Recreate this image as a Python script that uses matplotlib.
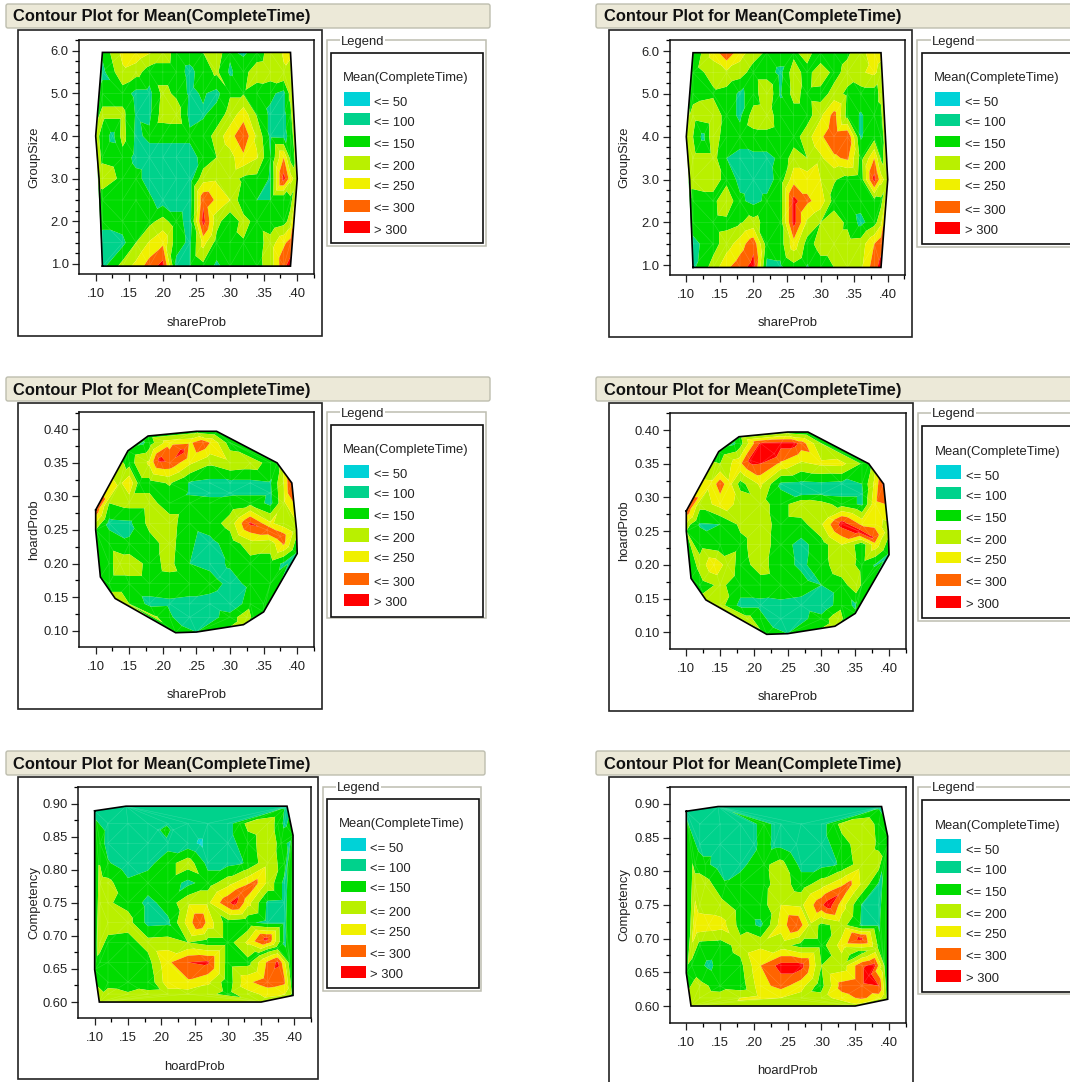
import matplotlib
matplotlib.use("Agg")
import matplotlib.pyplot as plt
import matplotlib.tri as mtri
from matplotlib.patches import Rectangle, FancyBboxPatch
import numpy as np

plt.rcParams['font.family'] = ['Liberation Sans', 'DejaVu Sans']

# ---------- data ----------
legend_title = "Mean(CompleteTime)"
legend_labels = ["<= 50", "<= 100", "<= 150", "<= 200", "<= 250", "<= 300", "> 300"]
band_levels = [0, 50, 100, 150, 200, 250, 300, 1000]
band_colors = ["#00D2D7", "#00D28C", "#00DC00", "#B9F000", "#F0F000", "#FF6400", "#FF0000"]
x_tick_values = [.10, .15, .20, .25, .30, .35, .40]
x_tick_labels = [".10", ".15", ".20", ".25", ".30", ".35", ".40"]

share_levels = [.11, .14, .16, .18, .20, .22, .24, .26, .28, .30, .32, .34, .36, .38, .39]
group_levels = [5.96, 5.5, 5.0, 4.5, 4.0, 3.5, 3.0, 2.5, 2.0, 1.5, 0.95]
group_ticks = [1, 2, 3, 4, 5, 6]
time_group_a = [
    [110, 215, 235, 205, 180, 130, 125, 150, 180, 110, 90, 125, 170, 205, 210],
    [85, 190, 170, 125, 125, 125, 85, 125, 160, 90, 135, 175, 180, 195, 180],
    [125, 125, 85, 85, 165, 140, 90, 105, 85, 145, 145, 125, 110, 85, 170],
    [165, 165, 95, 90, 175, 180, 85, 95, 120, 170, 230, 145, 90, 85, 130],
    [130, 170, 90, 110, 110, 110, 110, 120, 170, 230, 290, 190, 90, 85, 115],
    [140, 130, 85, 80, 80, 80, 80, 115, 150, 180, 240, 205, 100, 250, 130],
    [175, 140, 115, 80, 75, 75, 75, 180, 190, 170, 140, 135, 95, 320, 220],
    [125, 125, 135, 110, 75, 75, 75, 290, 240, 200, 110, 100, 100, 100, 135],
    [110, 125, 125, 135, 170, 120, 80, 320, 170, 110, 170, 130, 110, 130, 170],
    [85, 85, 150, 205, 240, 120, 90, 220, 130, 130, 145, 125, 175, 240, 270],
    [85, 170, 215, 275, 320, 85, 95, 135, 90, 125, 130, 135, 170, 290, 320],
]
time_group_b = [
    [100, 220, 290, 220, 175, 140, 135, 135, 180, 100, 120, 140, 185, 225, 215],
    [125, 170, 190, 175, 125, 125, 85, 180, 125, 195, 130, 170, 195, 210, 180],
    [130, 140, 130, 90, 120, 200, 95, 170, 130, 125, 170, 140, 125, 125, 165],
    [170, 190, 125, 90, 175, 180, 120, 125, 125, 190, 270, 130, 95, 125, 135],
    [150, 190, 110, 120, 135, 135, 125, 125, 180, 240, 290, 300, 95, 130, 140],
    [170, 170, 100, 85, 85, 85, 110, 175, 150, 190, 240, 260, 130, 250, 140],
    [170, 170, 135, 85, 80, 80, 120, 230, 230, 200, 155, 130, 120, 320, 220],
    [125, 135, 190, 110, 85, 110, 125, 320, 260, 230, 130, 125, 120, 130, 135],
    [125, 130, 135, 145, 170, 130, 125, 320, 190, 150, 175, 140, 85, 130, 185],
    [85, 130, 175, 225, 285, 125, 125, 230, 130, 170, 170, 170, 175, 250, 280],
    [90, 170, 240, 280, 320, 85, 90, 130, 95, 130, 150, 170, 190, 280, 320],
]
extra_group_a = [(.10, 4.0, 170), (.40, 3.0, 170), (.105, 3.0, 170), (.125, 4.0, 85)]
extra_group_b = [(.10, 4.0, 170), (.40, 3.0, 170), (.105, 3.0, 170), (.125, 4.0, 85)]

hoard_ticks = [.10, .15, .20, .25, .30, .35, .40]
hull_hoard = [(.10, .28, 290), (.10, .25, 150), (.107, .18, 100), (.129, .148, 170),
              (.219, .097, 140), (.25, .098, 100), (.32, .109, 170), (.35, .128, 110),
              (.40, .215, 90), (.399, .25, 170), (.392, .32, 310), (.37, .35, 120),
              (.28, .397, 110), (.25, .397, 130), (.178, .39, 130), (.148, .368, 120)]
rows_hoard_a = [
    (.38, [(.17, 90), (.18, 125), (.21, 230), (.24, 240), (.27, 250), (.30, 125)]),
    (.35, [(.15, 130), (.18, 210), (.21, 290), (.24, 210), (.27, 160), (.30, 190), (.33, 180), (.36, 130)]),
    (.32, [(.136, 190), (.15, 240), (.165, 130), (.18, 130), (.21, 155), (.24, 95), (.27, 85), (.30, 85), (.33, 85), (.36, 95), (.38, 200)]),
    (.305, [(.24, 95), (.27, 90), (.30, 90), (.33, 90), (.36, 90)]),
    (.29, [(.12, 150), (.15, 170), (.18, 170), (.21, 120), (.24, 120), (.27, 115), (.30, 125), (.33, 135), (.36, 85), (.38, 190)]),
    (.26, [(.106, 160), (.12, 85), (.15, 90), (.18, 165), (.21, 175), (.24, 110), (.27, 125), (.30, 170), (.33, 310), (.36, 210), (.38, 170)]),
    (.23, [(.12, 130), (.15, 105), (.18, 130), (.21, 170), (.24, 105), (.27, 85), (.30, 120), (.33, 180), (.36, 170), (.38, 260)]),
    (.20, [(.12, 130), (.136, 185), (.15, 190), (.18, 130), (.21, 165), (.24, 100), (.27, 85), (.30, 105), (.33, 130), (.36, 130), (.38, 90)]),
    (.17, [(.12, 125), (.15, 125), (.18, 125), (.21, 130), (.24, 125), (.27, 125), (.30, 85), (.33, 110), (.36, 120)]),
    (.14, [(.15, 150), (.18, 85), (.21, 90), (.24, 85), (.27, 75), (.30, 55), (.33, 130), (.35, 100)]),
    (.12, [(.19, 155), (.21, 110), (.24, 50), (.27, 80), (.30, 125), (.325, 185), (.335, 130)]),
]
extra_hoard_a = [(.195, .355, 315), (.23, .368, 315), (.26, .38, 290), (.355, .25, 290),
                 (.375, .24, 290), (.31, .27, 180), (.285, .18, 90)]
rows_hoard_b = [
    (.38, [(.17, 90), (.18, 130), (.21, 310), (.24, 320), (.27, 280), (.30, 150)]),
    (.35, [(.15, 150), (.18, 240), (.21, 300), (.24, 240), (.27, 190), (.30, 210), (.33, 215), (.36, 145)]),
    (.32, [(.136, 210), (.15, 280), (.165, 210), (.18, 130), (.21, 210), (.24, 90), (.27, 85), (.30, 90), (.33, 85), (.36, 100), (.38, 220)]),
    (.305, [(.27, 90), (.30, 95), (.33, 90), (.36, 90)]),
    (.29, [(.12, 170), (.15, 220), (.18, 190), (.21, 170), (.24, 125), (.27, 190), (.30, 170), (.33, 130), (.36, 90), (.38, 240)]),
    (.26, [(.106, 150), (.12, 95), (.15, 100), (.18, 160), (.21, 180), (.24, 125), (.27, 130), (.30, 195), (.33, 320), (.36, 240), (.38, 230)]),
    (.23, [(.12, 130), (.15, 110), (.18, 135), (.21, 180), (.24, 120), (.27, 85), (.30, 125), (.33, 200), (.36, 120), (.38, 230)]),
    (.20, [(.12, 170), (.141, 240), (.161, 180), (.18, 130), (.21, 170), (.24, 120), (.27, 90), (.30, 125), (.33, 190), (.36, 130), (.38, 95)]),
    (.17, [(.12, 125), (.15, 160), (.18, 125), (.21, 130), (.24, 125), (.27, 120), (.30, 100), (.33, 125), (.352, 190), (.36, 140)]),
    (.14, [(.15, 170), (.18, 85), (.21, 85), (.24, 90), (.27, 85), (.30, 60), (.33, 130), (.35, 90)]),
    (.12, [(.19, 170), (.21, 120), (.24, 50), (.27, 90), (.30, 120), (.325, 190), (.335, 130)]),
]
extra_hoard_b = [(.195, .355, 320), (.23, .365, 330), (.26, .38, 320), (.33, .262, 320),
                 (.355, .25, 320), (.375, .24, 310), (.31, .27, 200), (.285, .18, 90)]

competency_ticks = [.60, .65, .70, .75, .80, .85, .90]
hull_comp = [(.10, .889, 90), (.147, .896, 85), (.389, .896, 85), (.398, .852, 130),
             (.398, .61, 130), (.35, .60, 180), (.107, .60, 170), (.10, .649, 130)]
rows_comp_a = [
    (.87, [(.12, 85), (.15, 85), (.18, 85), (.21, 85), (.24, 85), (.27, 85), (.30, 85), (.33, 170), (.36, 190), (.385, 90), (.375, 130)]),
    (.84, [(.108, 125), (.12, 80), (.15, 85), (.18, 85), (.21, 80), (.24, 70), (.26, 40), (.27, 80), (.30, 85), (.33, 120), (.36, 190), (.38, 130), (.393, 85)]),
    (.81, [(.12, 105), (.15, 70), (.18, 85), (.21, 130), (.24, 180), (.27, 85), (.30, 85), (.33, 110), (.36, 185), (.385, 125)]),
    (.78, [(.108, 170), (.12, 165), (.15, 110), (.18, 125), (.21, 130), (.24, 85), (.27, 125), (.30, 180), (.33, 240), (.36, 190), (.385, 85)]),
    (.75, [(.108, 170), (.12, 155), (.15, 135), (.18, 85), (.21, 120), (.24, 190), (.27, 190), (.30, 290), (.33, 220), (.36, 90), (.385, 85)]),
    (.72, [(.12, 175), (.15, 170), (.18, 85), (.21, 90), (.24, 220), (.258, 300), (.27, 230), (.30, 125), (.33, 110), (.36, 85), (.385, 85)]),
    (.69, [(.108, 170), (.12, 135), (.15, 130), (.18, 170), (.21, 175), (.24, 150), (.27, 125), (.30, 125), (.33, 210), (.385, 90)]),
    (.66, [(.108, 130), (.12, 100), (.15, 110), (.18, 130), (.21, 240), (.24, 300), (.27, 310), (.30, 125), (.33, 130), (.36, 260), (.375, 310), (.393, 130)]),
    (.63, [(.12, 130), (.15, 125), (.18, 110), (.21, 230), (.24, 240), (.27, 210), (.30, 120), (.33, 240), (.36, 280), (.385, 260)]),
    (.612, [(.12, 170), (.15, 155), (.18, 170), (.21, 175), (.24, 175), (.27, 165), (.30, 130), (.33, 180), (.36, 215), (.385, 205)]),
]
extra_comp_a = [(.205, .86, 130), (.195, .86, 85), (.218, .86, 85), (.318, .87, 120), (.32, .81, 95),
                (.31, .75, 320), (.32, .765, 290), (.34, .779, 270), (.358, .695, 320),
                (.345, .672, 130), (.36, .678, 130), (.375, .682, 130)]
rows_comp_b = [
    (.87, [(.12, 85), (.15, 85), (.18, 85), (.215, 135), (.24, 85), (.27, 85), (.30, 85), (.33, 175), (.36, 190), (.385, 135)]),
    (.84, [(.12, 85), (.15, 85), (.18, 85), (.215, 130), (.24, 85), (.263, 55), (.30, 85), (.33, 120), (.36, 190), (.385, 140), (.398, 120)]),
    (.81, [(.113, 130), (.128, 110), (.15, 80), (.18, 85), (.215, 140), (.24, 170), (.27, 85), (.30, 85), (.33, 110), (.36, 180), (.385, 170)]),
    (.78, [(.113, 175), (.128, 175), (.158, 105), (.18, 125), (.215, 135), (.24, 175), (.27, 125), (.30, 180), (.33, 240), (.36, 190), (.385, 90)]),
    (.75, [(.12, 175), (.15, 170), (.18, 125), (.21, 125), (.24, 200), (.27, 190), (.30, 290), (.33, 225), (.36, 95), (.385, 85)]),
    (.72, [(.113, 240), (.133, 230), (.153, 220), (.18, 130), (.21, 90), (.24, 220), (.263, 300), (.283, 190), (.30, 135), (.33, 170), (.36, 90), (.385, 90)]),
    (.69, [(.12, 130), (.15, 125), (.18, 170), (.21, 190), (.24, 170), (.27, 130), (.30, 130), (.33, 220), (.385, 135)]),
    (.66, [(.108, 130), (.133, 90), (.15, 115), (.18, 135), (.21, 250), (.24, 320), (.27, 320), (.30, 150), (.33, 170), (.36, 290), (.378, 320), (.393, 150)]),
    (.63, [(.12, 165), (.15, 130), (.18, 120), (.21, 230), (.24, 270), (.27, 220), (.298, 125), (.33, 270), (.36, 290), (.385, 300)]),
    (.612, [(.12, 175), (.15, 170), (.18, 200), (.21, 215), (.24, 200), (.27, 180), (.30, 170), (.33, 230), (.36, 260), (.385, 225)]),
]
extra_comp_b = [(.318, .87, 120), (.32, .81, 95), (.31, .75, 330), (.325, .765, 300), (.34, .78, 270),
                (.358, .70, 320), (.345, .672, 130), (.36, .68, 135), (.38, .685, 170), (.37, .645, 330),
                (.20, .87, 85), (.23, .87, 85), (.20, .84, 85), (.23, .84, 85)]

# ---------- layout (pixel geometry of each panel) ----------
W, H = 1070, 1082
fig = plt.figure(figsize=(W / 100, H / 100), dpi=100, facecolor="white")
bg = fig.add_axes([0, 0, 1, 1])
bg.set_xlim(0, W); bg.set_ylim(H, 0); bg.axis("off")

FS = 9.4
GRAY = "#BDBDB0"
TXT = 1.5  # vertical nudge for centred text


def grid_points(xs, ys, grid, extra):
    pts = [(x, y, grid[i][j]) for i, y in enumerate(ys) for j, x in enumerate(xs)]
    return pts + list(extra)


def row_points(rows, hull, extra):
    pts = [(x, y, z) for y, row in rows for x, z in row]
    return pts + list(hull) + list(extra)


def panel(pts, outline, p):
    l, t, r, b = p["bar"]
    bg.add_patch(FancyBboxPatch((l + 2, t + 2), r - l - 4, b - t - 4, boxstyle="round,pad=2",
                                fc="#ECE9D8", ec="#BDBDAE", lw=1.0))
    bg.text(p["bar_tx"], (t + b) / 2 + 1, "Contour Plot for Mean(CompleteTime)", fontsize=11.85,
            fontweight="bold", va="center", ha="left", color="#111111")
    l, t, r, b = p["frame"]
    bg.add_patch(Rectangle((l, t), r - l, b - t, fc="white", ec="#222222", lw=1.2))
    # legend
    l, t, r, b = p["group"]
    bg.add_patch(Rectangle((l, t), r - l, b - t, fc="white", ec=GRAY, lw=1.1))
    l, t, r, b = p["inner"]
    bg.add_patch(Rectangle((l, t), r - l, b - t, fc="white", ec="#111111", lw=1.2))
    bg.text(p["legend_x"], p["group"][1] + TXT, "Legend", fontsize=FS, va="center", ha="left", color="#222222",
            bbox=dict(fc="white", ec="none", pad=0.6))
    bg.text(p["title_x"], p["title_y"] + TXT, legend_title, fontsize=FS, va="center", ha="left", color="#222222")
    sl, sr = p["sw_x"]
    for (st, sb), ty, c, lab in zip(p["sw_y"], p["txt_y"], band_colors, legend_labels):
        bg.add_patch(Rectangle((sl, st), sr - sl, sb - st, fc=c, ec="none"))
        bg.text(p["txt_x"], ty + TXT, lab, fontsize=FS, va="center", ha="left", color="#222222")
    # axes
    al, at, ar, ab = p["ax"]
    ax = fig.add_axes([al / W, 1 - ab / H, (ar - al) / W, (ab - at) / H])
    x0, x1 = p["xcal"]
    sx = (x1 - x0) / .30
    ax.set_xlim(.10 + (al - x0) / sx, .10 + (ar - x0) / sx)
    (v0, y0), (v1, y1) = p["ycal"]
    sy = (y1 - y0) / (v1 - v0)
    ax.set_ylim(v0 + (ab - y0) / sy, v0 + (at - y0) / sy)
    xs = np.array([q[0] for q in pts]); ys = np.array([q[1] for q in pts]); zs = np.array([q[2] for q in pts], float)
    # triangulate in screen-like scale so cells stay well-shaped
    tri = mtri.Triangulation(xs, ys, mtri.Triangulation(xs * sx, ys * sy).triangles)
    ax.tricontourf(tri, zs, levels=band_levels, colors=band_colors, antialiased=True)
    ax.triplot(tri, color="white", lw=0.4, alpha=0.18)
    ox = [q[0] for q in outline] + [outline[0][0]]
    oy = [q[1] for q in outline] + [outline[0][1]]
    ax.plot(ox, oy, color="black", lw=1.2, solid_joinstyle="miter")
    ax.set_xticks(x_tick_values, x_tick_labels)
    ax.set_yticks(p["yticks"], p["ylabels"])
    ax.set_xticks(p["xminor"], minor=True)
    ax.set_yticks(p["yminor"], minor=True)
    ax.tick_params(which="major", length=5, width=0.9, labelsize=FS, colors="#222222")
    ax.tick_params(axis="x", which="major", pad=5)
    ax.tick_params(axis="y", which="major", pad=2.5)
    ax.tick_params(which="minor", length=3, width=0.9)
    for s in ax.spines.values():
        s.set_linewidth(1.1); s.set_color("#111111")
    ax.patch.set_alpha(0)
    bg.text((al + ar) / 2, p["xlab_y"] + TXT, p["xlabel"], fontsize=FS, ha="center", va="center", color="#222222")
    bg.text(p["ylab_x"], (at + ab) / 2, p["ylabel"], fontsize=FS, rotation=90, ha="center", va="center", color="#222222")


minor_x = [.125, .175, .225, .275, .325, .375, .425]
minor_hoard = [.125, .175, .225, .275, .325, .375, .425]
minor_comp = [.625, .675, .725, .775, .825, .875, .925]
minor_group = [v for v in np.arange(1.25, 6.5, .25) if abs(v - round(v)) > .01]

fmt_1 = [f"{v:.1f}" for v in group_ticks]
fmt_h = [f"{v:.2f}" for v in hoard_ticks]
fmt_c = [f"{v:.2f}" for v in competency_ticks]

outline_group = [(.11, .95), (.39, .95), (.40, 3.0), (.39, 5.96), (.11, 5.96), (.10, 4.0), (.105, 3.0)]

panels = [
    (grid_points(share_levels, group_levels, time_group_a, extra_group_a), outline_group,
     dict(bar=(6, 4, 490, 28), bar_tx=13, frame=(18, 30, 322, 336), ax=(79, 40, 314, 274),
          xcal=(95.7, 297.3), ycal=((1, 264), (6, 50.7)), group=(327, 40, 486, 246), inner=(331, 53, 483, 243),
          legend_x=341, title_x=343, title_y=77, sw_x=(344, 370), txt_x=374,
          sw_y=[(92, 106), (113, 125), (136, 147), (156, 170), (178, 189), (200, 212), (221, 233)],
          txt_y=[102, 122, 143, 165, 185, 208, 229], yticks=group_ticks, ylabels=fmt_1, xminor=minor_x, yminor=minor_group,
          xlabel="shareProb", ylabel="GroupSize", xlab_y=321, ylab_x=34)),
    (grid_points(share_levels, group_levels, time_group_b, extra_group_b), outline_group,
     dict(bar=(596, 4, 1090, 28), bar_tx=604, frame=(608.7, 30, 912, 337), ax=(669.7, 40, 905, 275.3),
          xcal=(686.3, 887.7), ycal=((1, 265.3), (6, 51)), group=(917, 40, 1090, 247), inner=(922, 53, 1090, 244),
          legend_x=932, title_x=934, title_y=77, sw_x=(935, 960), txt_x=965,
          sw_y=[(92, 106), (114, 126), (136, 147), (156, 170), (179, 190), (201, 213), (222, 234)],
          txt_y=[102, 122, 143, 166, 186, 209, 230], yticks=group_ticks, ylabels=fmt_1, xminor=minor_x, yminor=minor_group,
          xlabel="shareProb", ylabel="GroupSize", xlab_y=322, ylab_x=624)),
    (row_points(rows_hoard_a, hull_hoard, extra_hoard_a), hull_hoard,
     dict(bar=(6, 377, 490, 401), bar_tx=13, frame=(18, 403, 322, 709), ax=(79, 412, 314, 647),
          xcal=(95.7, 297.3), ycal=((.10, 630.7), (.40, 429.3)), group=(327, 412, 486, 618), inner=(331, 425, 483, 617),
          legend_x=341, title_x=343, title_y=449, sw_x=(344, 369), txt_x=374,
          sw_y=[(465, 478), (486, 498), (508, 519), (528, 542), (551, 562), (573, 585), (594, 606)],
          txt_y=[474, 494, 515, 538, 558, 581, 602], yticks=hoard_ticks, ylabels=fmt_h, xminor=minor_x, yminor=minor_hoard,
          xlabel="shareProb", ylabel="hoardProb", xlab_y=693, ylab_x=34)),
    (row_points(rows_hoard_b, hull_hoard, extra_hoard_b), hull_hoard,
     dict(bar=(596, 377, 1090, 401), bar_tx=604, frame=(608.7, 403, 913, 711), ax=(669.7, 413, 906, 649),
          xcal=(686.3, 889), ycal=((.10, 632.3), (.40, 430)), group=(917.7, 413, 1090, 620.7), inner=(922, 426, 1090, 618),
          legend_x=932, title_x=935, title_y=450, sw_x=(936, 961), txt_x=966,
          sw_y=[(465, 479), (487, 499), (510, 521), (530, 544), (552, 563), (574, 586), (596, 608)],
          txt_y=[475, 495, 518, 539, 560, 582, 604], yticks=hoard_ticks, ylabels=fmt_h, xminor=minor_x, yminor=minor_hoard,
          xlabel="shareProb", ylabel="hoardProb", xlab_y=696, ylab_x=624)),
    (row_points(rows_comp_a, hull_comp, extra_comp_a), hull_comp,
     dict(bar=(6, 751, 485, 775), bar_tx=13, frame=(18, 777, 318, 1079), ax=(78, 787, 311, 1018),
          xcal=(94.7, 294.7), ycal=((.60, 1002), (.90, 803)), group=(323, 787, 481, 991), inner=(327, 799, 479, 988),
          legend_x=337, title_x=339, title_y=823, sw_x=(341, 366), txt_x=370,
          sw_y=[(838, 851), (859, 871), (881, 892), (901, 914), (924, 935), (945, 957), (966, 978)],
          txt_y=[847, 867, 888, 911, 931, 953, 974], yticks=competency_ticks, ylabels=fmt_c, xminor=minor_hoard, yminor=minor_comp,
          xlabel="hoardProb", ylabel="Competency", xlab_y=1065, ylab_x=34)),
    (row_points(rows_comp_b, hull_comp, extra_comp_b), hull_comp,
     dict(bar=(596, 751, 1090, 775), bar_tx=604, frame=(608.7, 777, 913, 1095), ax=(669.7, 787, 906, 1023),
          xcal=(686.3, 889), ycal=((.60, 1006), (.90, 803.7)), group=(917.7, 787, 1090, 994), inner=(922, 800, 1090, 992),
          legend_x=932, title_x=935, title_y=824, sw_x=(936, 961), txt_x=966,
          sw_y=[(839, 853), (861, 873), (884, 895), (904, 918), (926, 937), (948, 960), (970, 982)],
          txt_y=[849, 869, 891, 913, 934, 956, 978], yticks=competency_ticks, ylabels=fmt_c, xminor=minor_hoard, yminor=minor_comp,
          xlabel="hoardProb", ylabel="Competency", xlab_y=1070, ylab_x=624)),
]

for pts, outline, p in panels:
    panel(pts, outline, p)

fig.savefig("out.png", dpi=100, facecolor="white")
